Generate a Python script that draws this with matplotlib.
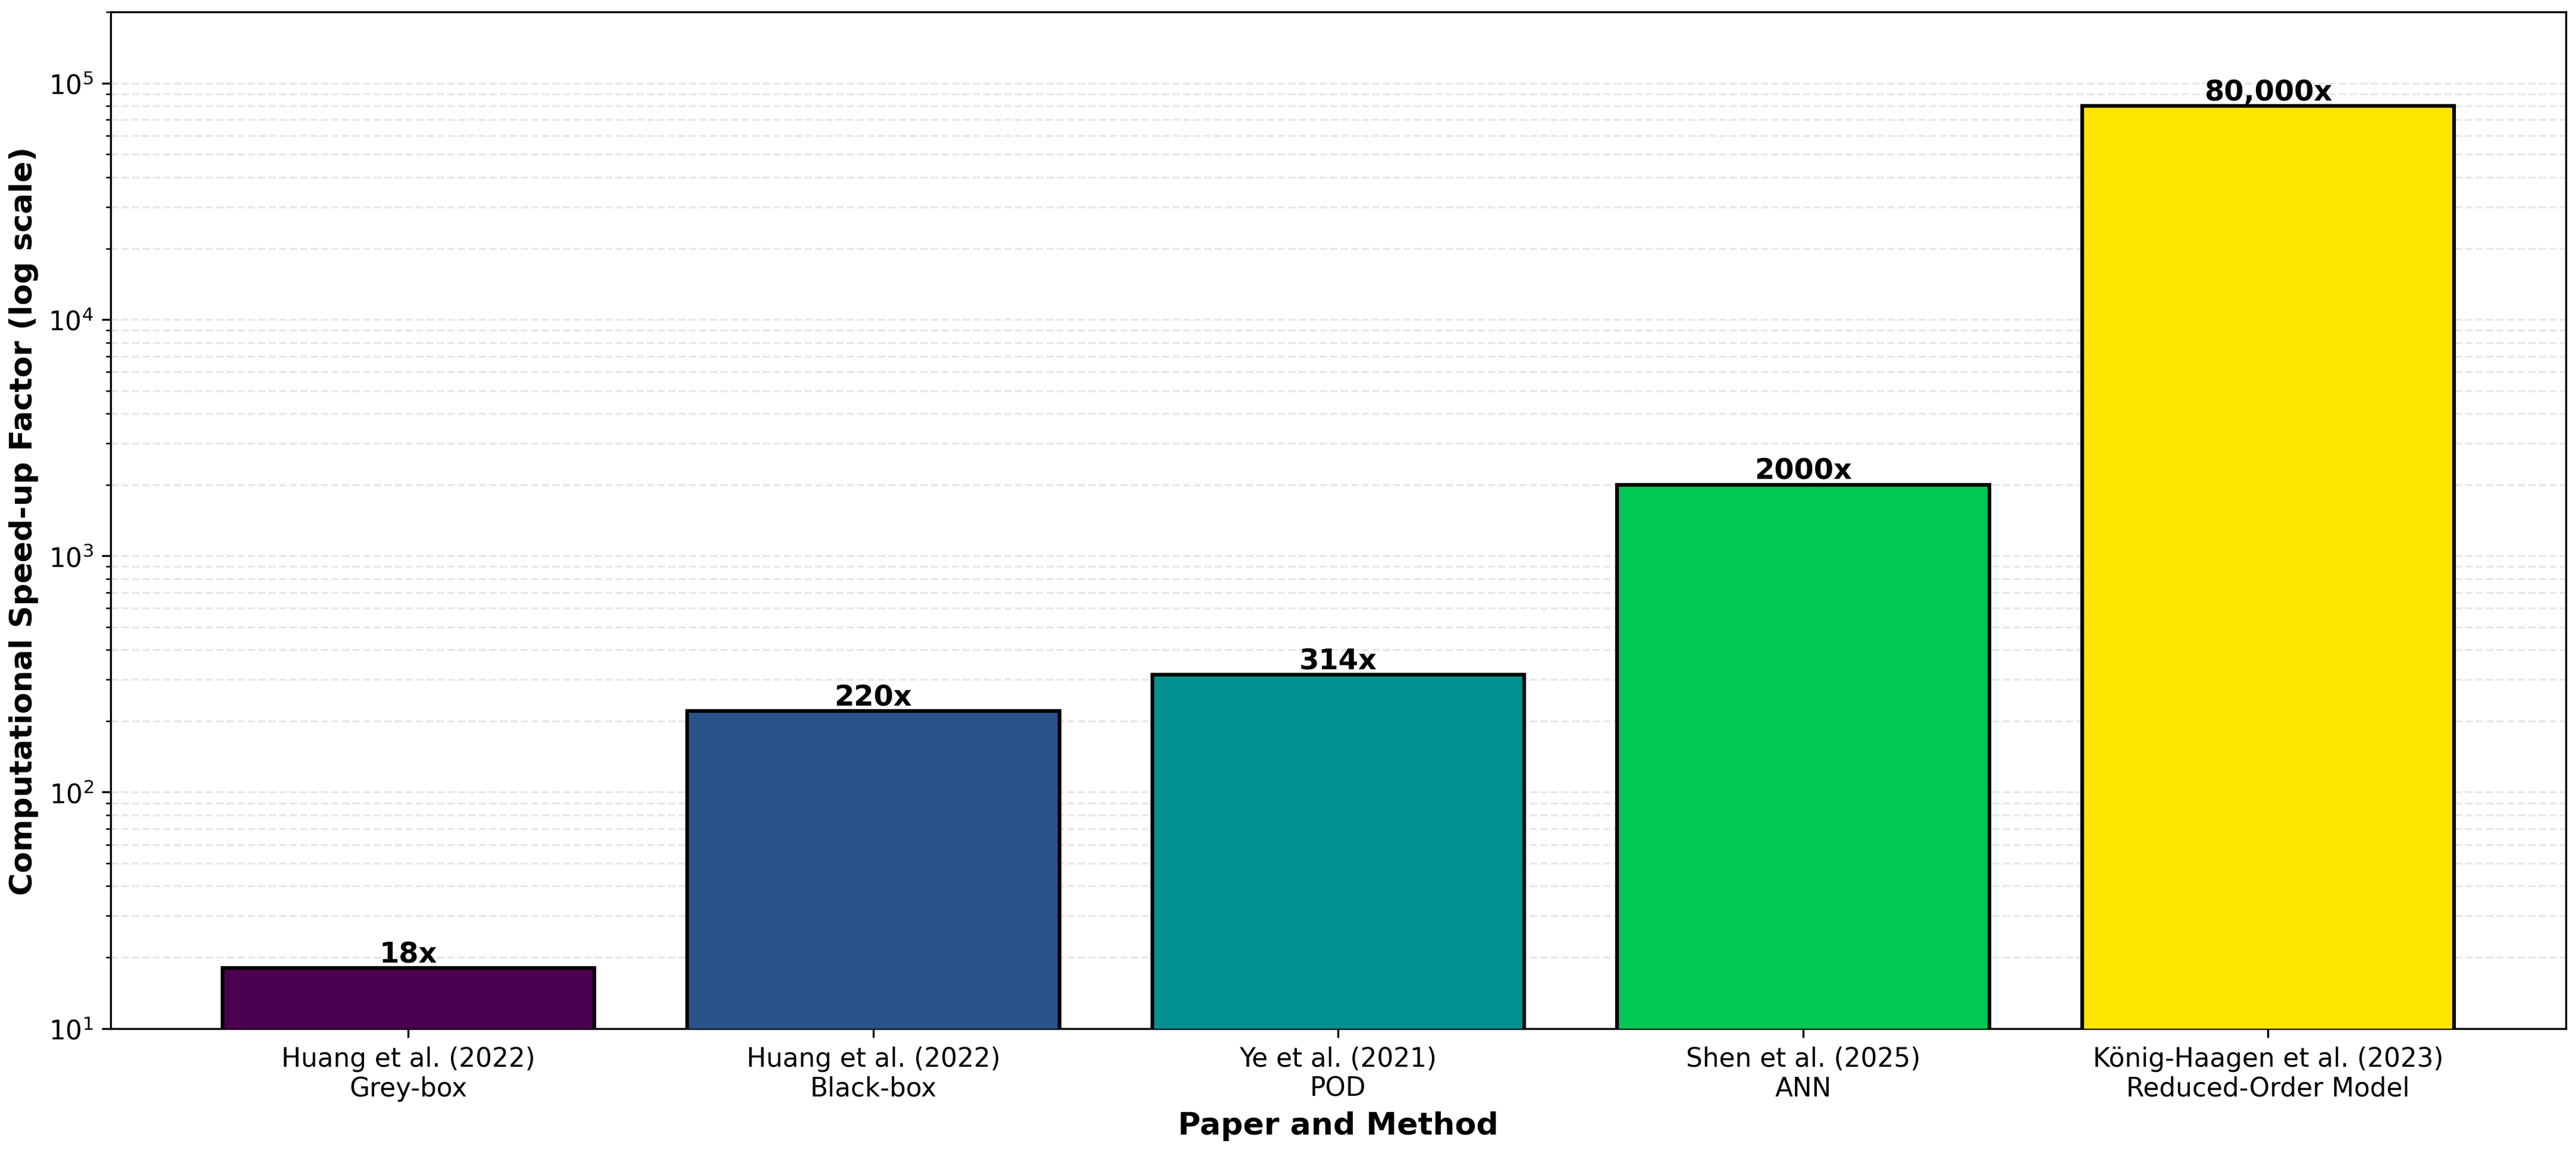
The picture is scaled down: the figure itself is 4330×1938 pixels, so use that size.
import matplotlib.pyplot as plt

labels = ["Huang et al. (2022)\nGrey-box", "Huang et al. (2022)\nBlack-box", "Ye et al. (2021)\nPOD",
          "Shen et al. (2025)\nANN", "König-Haagen et al. (2023)\nReduced-Order Model"]
speedups = [18, 220, 314, 2000, 80000]
texts = ["18x", "220x", "314x", "2000x", "80,000x"]
colors = ["#4b0050", "#2a528a", "#009190", "#00c853", "#ffe600"]

fig = plt.figure(figsize=(4330 / 300, 1939 / 300), dpi=300)
ax = fig.add_axes([0.043, 0.108, 0.953, 0.881])
x = range(len(labels))
bars = ax.bar(x, speedups, color=colors, edgecolor="black", linewidth=1.5, width=0.8, zorder=3)
ax.set_yscale("log")
ax.set_ylim(10, 2e5)
for b, t in zip(bars, texts):
    ax.text(b.get_x() + b.get_width() / 2, b.get_height(), t, ha="center", va="bottom",
            fontsize=11.5, fontweight="bold", zorder=4)
ax.set_xticks(list(x))
ax.set_xticklabels(labels, fontsize=10.5)
ax.tick_params(axis="y", labelsize=10.5)
ax.set_xlabel("Paper and Method", fontsize=12.5, fontweight="bold")
ax.set_ylabel("Computational Speed-up Factor (log scale)", fontsize=12.5, fontweight="bold")
ax.grid(True, which="both", axis="y", linestyle="--", alpha=0.3, zorder=0)
ax.set_xlim(-0.64, 4.64)
fig.savefig("out.png", dpi=300)
